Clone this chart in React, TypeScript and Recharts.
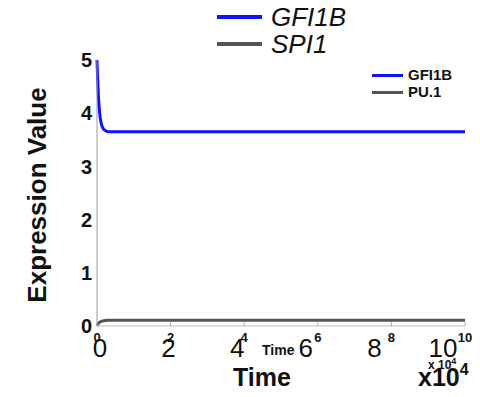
import { Line, LineChart, XAxis, YAxis } from "recharts";

// time in units of 10^4
const times = [0, 0.02, 0.04, 0.06, 0.09, 0.13, 0.18, 0.25, 0.35, 0.5, 1, 2, 4, 6, 8, 10];
const gfi1b = [5.0, 4.6, 4.3, 4.1, 3.9, 3.77, 3.7, 3.665, 3.65, 3.65, 3.65, 3.65, 3.65, 3.65, 3.65, 3.65];
const spi1 = [0, 0.03, 0.05, 0.065, 0.08, 0.09, 0.1, 0.105, 0.11, 0.11, 0.11, 0.11, 0.11, 0.11, 0.11, 0.11];
const xTicks = [0, 2, 4, 6, 8, 10];
const yTicks = [0, 1, 2, 3, 4, 5];

const topLegend = [
  { name: "GFI1B", color: "#1010ff" },
  { name: "SPI1", color: "#555555" },
];
const innerLegend = [
  { name: "GFI1B", color: "#1010ff" },
  { name: "PU.1", color: "#555555" },
];

const FONT = "'Liberation Sans', Arial, sans-serif";

const data = times.map((t, i) => ({ t, gfi1b: gfi1b[i], spi1: spi1[i] }));

function XTick(props: any) {
  const { x, y, payload } = props;
  const v = payload.value as number;
  const shift = 3 - 2.5 * v;
  return (
    <g>
      <line x1={x} x2={x} y1={y - 4} y2={y} stroke="#aaaaaa" strokeWidth={1} />
      <text x={x} y={y + 16} textAnchor="middle" fontSize={13} fontWeight="bold" fontFamily={FONT} fill="#111">
        {v}
      </text>
      <text x={x + shift} y={y + 31} textAnchor="middle" fontSize={26} fontFamily={FONT} fill="#111">
        {v}
      </text>
    </g>
  );
}

function YLabel(props: any) {
  const vb = props.viewBox;
  const cy = vb.y + vb.height / 2 + 2;
  return (
    <text
      x={46}
      y={cy}
      transform={`rotate(-90, 46, ${cy})`}
      textAnchor="middle"
      fontSize={26}
      fontWeight="bold"
      fontFamily={FONT}
      fill="#111"
    >
      Expression Value
    </text>
  );
}

export default function App() {
  return (
    <div style={{ position: "absolute", top: 0, left: 0, width: 480, height: 397, background: "#fff", fontFamily: FONT }}>
      <LineChart width={480} height={397} data={data} margin={{ top: 60, right: 15, bottom: 41, left: 0 }}>
        <XAxis
          dataKey="t"
          type="number"
          domain={[0, 10]}
          ticks={xTicks}
          tick={<XTick />}
          tickLine={false}
          tickSize={0}
          tickMargin={0}
          height={30}
          stroke="#bbbbbb"
          interval={0}
        />
        <YAxis
          type="number"
          domain={[0, 5]}
          ticks={yTicks}
          width={97}
          tickLine={false}
          tickSize={0}
          tickMargin={5}
          stroke="#999999"
          tick={{ fontSize: 20, fontWeight: "bold", fill: "#111", fontFamily: FONT }}
          label={{ content: <YLabel /> }}
        />
        <Line type="monotone" dataKey="spi1" stroke="#555555" strokeWidth={3} dot={false} isAnimationActive={false} />
        <Line type="monotone" dataKey="gfi1b" stroke="#1010ff" strokeWidth={3} dot={false} isAnimationActive={false} />
      </LineChart>

      {topLegend.map((item, i) => (
        <div key={item.name} style={{ position: "absolute", left: 217, top: 3 + i * 27, height: 28, display: "flex", alignItems: "center" }}>
          <div style={{ width: 45, height: 4, background: item.color }} />
          <span style={{ marginLeft: 9, fontSize: 26, fontStyle: "italic", color: "#111", lineHeight: "28px" }}>{item.name}</span>
        </div>
      ))}

      {innerLegend.map((item, i) => (
        <div
          key={item.name}
          style={{
            position: "absolute",
            left: 372,
            top: 66 + i * 17,
            height: i === 1 ? 14 : 18,
            overflow: "hidden",
            display: "flex",
            alignItems: "flex-start",
          }}
        >
          <div style={{ width: 31, height: 3, background: item.color, marginTop: 8 }} />
          <span style={{ marginLeft: 5, fontSize: 15, fontWeight: "bold", color: "#111", lineHeight: "18px" }}>{item.name}</span>
        </div>
      ))}

      <div style={{ position: "absolute", left: 262, top: 342, fontSize: 14, fontWeight: "bold", color: "#111", lineHeight: "16px" }}>Time</div>
      <div style={{ position: "absolute", left: 428, top: 354, fontSize: 12, fontWeight: "bold", color: "#111", lineHeight: "14px" }}>
        x 10<sup style={{ fontSize: 9 }}>4</sup>
      </div>
      <div style={{ position: "absolute", left: 233, top: 362, fontSize: 25, fontWeight: "bold", color: "#111", lineHeight: "30px" }}>Time</div>
      <div style={{ position: "absolute", left: 418, top: 362, fontSize: 25, fontWeight: "bold", color: "#111", lineHeight: "30px" }}>
        x10<sup style={{ fontSize: 16, verticalAlign: "top", lineHeight: "16px" }}>4</sup>
      </div>
    </div>
  );
}
